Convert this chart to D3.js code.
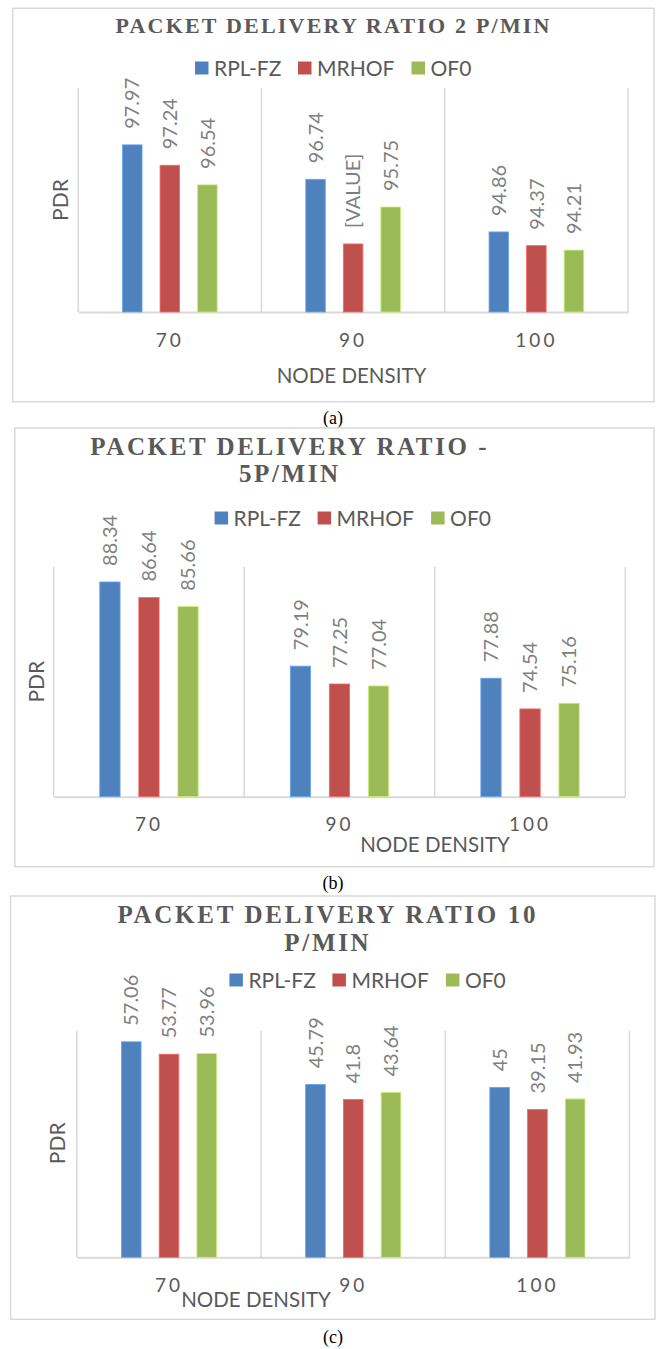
<!DOCTYPE html>
<html>
<head>
<meta charset="utf-8">
<script src="https://cdn.jsdelivr.net/npm/d3@7"></script>
<style>
  html, body { margin: 0; padding: 0; background: #ffffff; }
  svg { display: block; }
</style>
</head>
<body>
<svg id="fig" width="659" height="1349"></svg>
<script>
// ---------------- data ----------------
const categories = ["70", "90", "100"];
const seriesNames = ["RPL-FZ", "MRHOF", "OF0"];
const seriesColors = ["#4F81BD", "#C0504D", "#9BBB59"];

// (a) 2 p/min
const rplfz2 = [97.97, 96.74, 94.86];
const mrhof2 = [97.24, 94.43, 94.37];
const of02   = [96.54, 95.75, 94.21];
const mrhof2Shown = [null, "[VALUE]", null];   // label text shown in place of value
// (b) 5 p/min
const rplfz5 = [88.34, 79.19, 77.88];
const mrhof5 = [86.64, 77.25, 74.54];
const of05   = [85.66, 77.04, 75.16];
// (c) 10 p/min
const rplfz10 = [57.06, 45.79, 45];
const mrhof10 = [53.77, 41.8, 39.15];
const of010   = [53.96, 43.64, 41.93];

const titleA = ["PACKET DELIVERY RATIO 2 P/MIN"];
const titleB = ["PACKET DELIVERY RATIO -", "5P/MIN"];
const titleC = ["PACKET DELIVERY RATIO 10", "P/MIN"];
const yDomainA = [92, 100];
const yDomainB = [65, 90];
const yDomainC = [0, 60];
const xTitle = "NODE DENSITY";
const yTitle = "PDR";
const captions = ["(a)", "(b)", "(c)"];

// ---------------- layout ----------------
const charts = [
  {
    title: titleA, series: [rplfz2, mrhof2, of02], shown: [null, mrhof2Shown, null], domain: yDomainA,
    border: [12.7, 8.3, 654, 401.7],
    titleCx: 332.5, titleY: [32.5], titleSize: 22, titleLs: 2.2,
    legendX: 195, legendY: 68,
    plot: { left: 78.2, right: 628, top: 88, bottom: 312 },
    xTitleCx: 351.5, xTitleY: 383.3,
    yTitleCx: 60, yTitleCy: 200,
    captionY: 424
  },
  {
    title: titleB, series: [rplfz5, mrhof5, of05], shown: [null, null, null], domain: yDomainB,
    border: [14.8, 428, 654, 866.7],
    titleCx: 288.5, titleY: [455, 481.7], titleSize: 25, titleLs: 2.6,
    legendX: 214.6, legendY: 518,
    plot: { left: 53.7, right: 625.3, top: 566.7, bottom: 796.7 },
    xTitleCx: 435, xTitleY: 851.7,
    yTitleCx: 36, yTitleCy: 681.7,
    captionY: 889
  },
  {
    title: titleC, series: [rplfz10, mrhof10, of010], shown: [null, null, null], domain: yDomainC,
    border: [10.6, 896, 655, 1319.3],
    titleCx: 326.5, titleY: [923.3, 950.7], titleSize: 25, titleLs: 2.7,
    legendX: 229.4, legendY: 980,
    plot: { left: 76.9, right: 629.5, top: 1030.7, bottom: 1257.3 },
    xTitleCx: 256, xTitleY: 1306.7,
    yTitleCx: 57.6, yTitleCy: 1143.3,
    captionY: 1343
  }
];

const SANS = "Lato, 'Noto Sans', 'DejaVu Sans', sans-serif";
const SERIF = "'Liberation Serif', 'Times New Roman', serif";
const legendOffsets = [0, 103, 216.5];

const svg = d3.select("#fig");
svg.append("rect").attr("x", 0).attr("y", 0).attr("width", 659).attr("height", 1349).attr("fill", "#ffffff");

charts.forEach((cfg, ci) => {
  const g = svg.append("g");
  const [bx0, by0, bx1, by1] = cfg.border;

  // chart border
  g.append("rect")
    .attr("x", bx0).attr("y", by0)
    .attr("width", bx1 - bx0).attr("height", by1 - by0)
    .attr("fill", "#ffffff").attr("stroke", "#D9D9D9").attr("stroke-width", 1.5);

  // title
  cfg.title.forEach((line, i) => {
    g.append("text")
      .attr("x", cfg.titleCx).attr("y", cfg.titleY[i])
      .attr("dx", cfg.titleLs / 2)
      .attr("text-anchor", "middle")
      .attr("font-family", SERIF).attr("font-weight", "bold")
      .attr("font-size", cfg.titleSize)
      .attr("letter-spacing", cfg.titleLs)
      .attr("fill", "#595959")
      .text(line);
  });

  // legend
  seriesNames.forEach((name, i) => {
    const lx = cfg.legendX + legendOffsets[i];
    g.append("rect")
      .attr("x", lx).attr("y", cfg.legendY - 6.5)
      .attr("width", 13.5).attr("height", 13)
      .attr("fill", seriesColors[i]);
    g.append("text")
      .attr("x", lx + 19).attr("y", cfg.legendY)
      .attr("dy", "0.36em")
      .attr("font-family", SANS).attr("font-size", 21)
      .attr("fill", "#595959")
      .text(name);
  });

  // scales
  const p = cfg.plot;
  const x0 = d3.scaleBand().domain(categories).range([p.left, p.right]).padding(0);
  const x1 = d3.scaleBand().domain(seriesNames).range([0, x0.bandwidth()])
    .paddingInner(0.48).paddingOuter(1.18);
  const y = d3.scaleLinear().domain(cfg.domain).range([p.bottom, p.top]);

  // vertical separators (category boundaries)
  const bounds = categories.map(c => x0(c)).concat([x0.range()[1]]);
  g.selectAll("line.sep").data(bounds).join("line")
    .attr("class", "sep")
    .attr("x1", d => d).attr("x2", d => d)
    .attr("y1", y(cfg.domain[1])).attr("y2", y(cfg.domain[0]))
    .attr("stroke", "#D9D9D9").attr("stroke-width", 1.5);

  // x axis (baseline + category labels)
  const ax = g.append("g")
    .attr("transform", `translate(0,${y(cfg.domain[0])})`)
    .call(d3.axisBottom(x0).tickSize(0).tickSizeOuter(0));
  ax.select(".domain").attr("stroke", "#D9D9D9").attr("stroke-width", 2);
  ax.selectAll(".tick text")
    .attr("y", 34.5).attr("dy", null)
    .attr("font-family", SANS).attr("font-size", 19)
    .attr("letter-spacing", 3)
    .attr("fill", "#595959");

  // bars
  const rows = [];
  cfg.series.forEach((vals, si) => {
    vals.forEach((v, k) => {
      const shown = cfg.shown[si] && cfg.shown[si][k] ? cfg.shown[si][k] : String(v);
      rows.push({ cat: categories[k], s: seriesNames[si], si, v, shown });
    });
  });

  g.selectAll("rect.bar").data(rows).join("rect")
    .attr("class", "bar")
    .attr("x", d => x0(d.cat) + x1(d.s))
    .attr("width", x1.bandwidth())
    .attr("y", d => y(d.v))
    .attr("height", d => y(cfg.domain[0]) - y(d.v))
    .attr("fill", d => seriesColors[d.si])
    .attr("stroke", d => d3.color(seriesColors[d.si]).brighter(0.7))
    .attr("stroke-width", 0.8);

  // data labels (rotated)
  g.selectAll("text.lbl").data(rows).join("text")
    .attr("class", "lbl")
    .attr("transform", d => `translate(${x0(d.cat) + x1(d.s) + x1.bandwidth() / 2},${y(d.v) - 16}) rotate(-90)`)
    .attr("dy", "0.36em")
    .attr("text-anchor", "start")
    .attr("font-family", SANS).attr("font-size", 20)
    .attr("fill", "#7F7F7F")
    .text(d => d.shown);

  // axis titles
  g.append("text")
    .attr("x", cfg.xTitleCx).attr("y", cfg.xTitleY)
    .attr("text-anchor", "middle")
    .attr("font-family", SANS).attr("font-size", 20.5)
    .attr("fill", "#595959")
    .text(xTitle);

  g.append("text")
    .attr("transform", `translate(${cfg.yTitleCx},${cfg.yTitleCy}) rotate(-90)`)
    .attr("dy", "0.36em")
    .attr("text-anchor", "middle")
    .attr("font-family", SANS).attr("font-size", 21)
    .attr("fill", "#595959")
    .text(yTitle);

  // caption
  svg.append("text")
    .attr("x", 333).attr("y", cfg.captionY)
    .attr("text-anchor", "middle")
    .attr("font-family", SERIF).attr("font-size", 18)
    .attr("fill", "#000000")
    .text(captions[ci]);
});
</script>
</body>
</html>
